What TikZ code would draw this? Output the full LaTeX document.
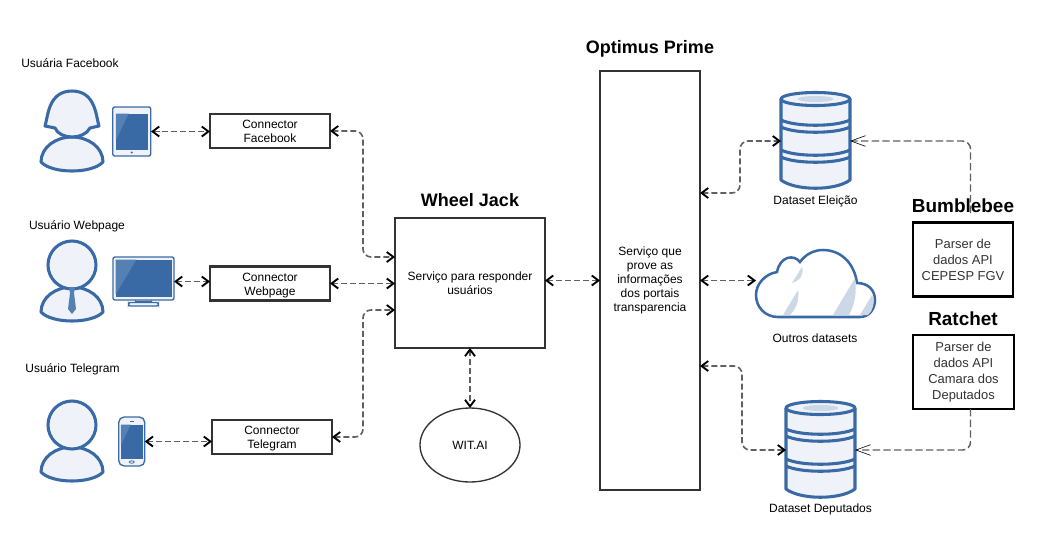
\documentclass[tikz,border=0pt]{standalone}
\usepackage{fontspec}
\setmainfont{Liberation Sans}
\usepackage{xcolor}
\usetikzlibrary{positioning,shapes,arrows.meta}

\definecolor{iconblue}{HTML}{3A6AA5}
\definecolor{iconlight}{HTML}{5480B3}
\definecolor{iconpale}{HTML}{EFF3F9}
\definecolor{cloudstripe}{HTML}{CDD8E6}
\definecolor{linkgray}{HTML}{606060}
\definecolor{boxgray}{HTML}{333333}

\newcommand{\lowline}{\rule{0pt}{9pt}}

\tikzset{
    icon/.style={draw=iconblue,fill=iconpale,line width=2.3pt,line join=round},
    thinicon/.style={draw=iconblue,fill=iconpale,line width=1pt,rounded corners=1.5pt},
    service/.style={draw=boxgray,fill=white,line width=1.6pt,inner sep=0pt,outer sep=0pt,align=center,
        font=\fontsize{9}{10.6}\selectfont},
    parser/.style={service,draw=black,minimum width=75pt,minimum height=55.5pt,
        font=\fontsize{9.7}{12}\selectfont,text=boxgray},
    connector/.style={service,minimum width=90pt,minimum height=25.5pt},
    slot/.style={inner sep=0pt,outer sep=0pt},
    caption/.style={font=\fontsize{9}{11}\selectfont,inner sep=0pt},
    heading/.style={font=\fontsize{13.5}{16}\selectfont\bfseries,inner sep=0pt},
    bigheading/.style={font=\fontsize{14.2}{16}\selectfont\bfseries,inner sep=0pt},
    link/.style={{Straight Barb[black,length=5pt,width=7.5pt,line width=1.4pt]}-{Straight Barb[black,length=5pt,width=7.5pt,line width=1.4pt]},
        draw=linkgray,line width=1.2pt,dash pattern=on 4.5pt off 2.2pt,rounded corners=6pt},
    feed/.style={-{Straight Barb[black,length=11pt,width=8pt,line width=.45pt]},
        draw=linkgray,line width=1.1pt,dash pattern=on 5.5pt off 2.5pt,rounded corners=6pt},
    userbody/.pic={
        \draw[icon] (-31,47) .. controls (-31,32) and (-16,22) .. (0,22)
            .. controls (16,22) and (31,32) .. (31,47)
            .. controls (20,59) and (-20,59) .. (-31,47) -- cycle;
    },
    usermale/.pic={
        \pic {userbody};
        \draw[icon] (0,0) circle [radius=24];
    },
    usertie/.pic={
        \fill[iconlight] (-3,22) -- (3,22) -- (2,28) -- (4,44) -- (0,49) -- (-4,44) -- (-2,28) -- cycle;
    },
    userfemale/.pic={
        \pic {userbody};
        \draw[icon] (-27,11) .. controls (-24,2) and (-24,-24) .. (0,-24)
            .. controls (24,-24) and (24,2) .. (27,11) -- (18,13)
            .. controls (12,25) and (-12,25) .. (-17,13) -- cycle;
    },
    tablet/.pic={
        \draw[thinicon] (-19,-24.5) rectangle (19,24.5);
        \fill[iconblue] (-16,-18) rectangle (16,18);
        \fill[iconlight] (-16,-18) -- (-3,-18) -- (-16,9) -- cycle;
        \fill[iconblue] (0,21) circle [radius=1.2];
    },
    monitor/.pic={
        \draw[thinicon] (-8,20) rectangle (8,22);
        \draw[thinicon] (-15,21) rectangle (15,24.5);
        \draw[thinicon] (-30.5,-24.5) rectangle (30.5,18.5);
        \fill[iconblue] (-28,-22) rectangle (28,15.5);
        \fill[iconlight] (-28,-22) -- (-7,-22) -- (-28,13) -- cycle;
    },
    phone/.pic={
        \draw[thinicon,rounded corners=4pt] (-13,-24.5) rectangle (13,24.5);
        \fill[iconblue] (-11,-17) rectangle (11,17);
        \fill[iconlight] (-11,-17) -- (-1,-17) -- (-11,4) -- cycle;
        \draw[iconblue,line width=.6pt] (-2,-20.5) -- (2,-20.5);
        \draw[iconblue,line width=.6pt] (0,20.5) ellipse [x radius=2.5,y radius=1.2];
    },
    database/.pic={
        \draw[icon,fill=iconpale] (-34.5,-42) -- (-34.5,39) .. controls (-20,50) and (20,50) .. (34.5,39) -- (34.5,-42);
        \draw[icon] (0,-42) ellipse [x radius=34.5,y radius=6.5];
        \fill[cloudstripe] (0,-42) ellipse [x radius=18,y radius=3];
        \foreach \sy in {-21,-14,9,16}
            \draw[iconblue,line width=2.3pt] (-34.5,\sy) .. controls (-20,\sy+7) and (20,\sy+7) .. (34.5,\sy);
    }
}

\begin{document}
\begin{tikzpicture}[x=.75pt,y=-.75pt]
    \useasboundingbox (0,0) rectangle (1063,536);

    % usuarios
    \node[caption] (lblfb) at (70,63.5) {Usuária Facebook};
    \node[caption] (lblweb) at (77,226.5) {Usuário Webpage};
    \node[caption] (lbltel) at (72.5,369.5) {Usuário Telegram};
    \pic at (72,115) {userfemale};
    \pic at (72,265) {usermale};
    \pic at (72,265) {usertie};
    \pic at (72,425) {usermale};

    % aparelhos
    \node[slot,minimum width=28.9pt,minimum height=36.75pt] (tabletfb) at (131.75,131.5) {};
    \node[slot,minimum width=45.75pt,minimum height=36.75pt] (monitorweb) at (143.5,281.5) {};
    \node[slot,minimum width=19.5pt,minimum height=36.75pt] (phonetel) at (131.75,441.5) {};
    \pic at (tabletfb) {tablet};
    \pic at (monitorweb) {monitor};
    \pic at (phonetel) {phone};

    % conectores
    \node[connector] (connfb) at (270,131) {Connector\\Facebook};
    \node[connector] (connweb) at (270,283.5) {\lowline Connector\\Webpage};
    \node[connector] (conntel) at (272,437) {\lowline Connector\\Telegram};

    % servicos
    \node[service,minimum width=112.5pt,minimum height=97.5pt] (wheel) at (470,283) {Serviço para responder\\usuários};
    \node[heading,above=8.5pt of wheel] (wheeltitle) {Wheel Jack};
    \node[service,ellipse,minimum width=75pt,minimum height=55.5pt,line width=1pt] (witai) at (470,445) {WIT.AI};
    \node[service,minimum width=75pt,minimum height=314.25pt] (optimus) at (650,280.5) {Serviço que\\prove as\\informações\\dos portais\\transparencia};
    \node[heading,above=10.5pt of optimus] (optimustitle) {Optimus Prime};

    % datasets
    \node[slot,minimum width=51.75pt,minimum height=72pt] (dbeleicao) at (815.5,141) {};
    \node[slot,minimum width=51.75pt,minimum height=72pt] (dbdeputados) at (820.5,450) {};
    \node[slot,minimum width=89.25pt,minimum height=50.25pt] (cloud) at (815.5,283.5) {};
    \pic at (dbeleicao) {database};
    \pic at (dbdeputados) {database};
    \draw[draw=iconblue,fill=white,line width=1.9pt] (778,317) -- (860,317)
        .. controls (869,317) and (875,309) .. (875,300)
        .. controls (875,290) and (868,283) .. (857,283)
        .. controls (854,262) and (840,250) .. (823,250)
        .. controls (813,250) and (805,255) .. (800,262)
        .. controls (794,254) and (780,256) .. (777,272)
        .. controls (765,274) and (756,284) .. (756,295)
        .. controls (756,307) and (765,317) .. (778,317) -- cycle;
    \fill[cloudstripe] (792,283) -- (802,267) .. controls (804,274) and (801,280) .. (792,283) -- cycle;
    \fill[cloudstripe] (783,315) -- (798,290) .. controls (800,301) and (795,310) .. (790,315) -- cycle;
    \fill[cloudstripe] (833,315) -- (855,278) .. controls (857,292) and (855,304) .. (849,315) -- cycle;
    \fill[cloudstripe] (860,315) -- (872,295) .. controls (875,303) and (873,311) .. (868,315) -- cycle;
    \node[caption,below=5pt of dbeleicao] (lbleleicao) {Dataset Eleição};
    \node[caption] (lbloutros) at (815,338) {Outros datasets};
    \node[caption,below=4.5pt of dbdeputados] (lbldeputados) {Dataset Deputados};

    % parsers
    \node[parser] (bumblebee) at (963,259.5) {Parser de\\dados API\\CEPESP FGV};
    \node[parser,minimum width=75.75pt] (ratchet) at (963.5,372) {Parser de\\dados API\\Camara dos\\Deputados};
    \coordinate (bumbleout) at (970.5,213);
    \coordinate (ratchetout) at (ratchet.south -| bumbleout);

    % ligacoes
    \draw[link] (tabletfb.east) -- (tabletfb.east -| connfb.west);
    \draw[link] (monitorweb.east) -- (monitorweb.east -| connweb.west);
    \draw[link] (phonetel.east) -- (phonetel.east -| conntel.west);
    \draw[link] (connfb.east) -- (363,131) -- (363,257) -- (395,257);
    \draw[link] (connweb.east) -- (wheel.west |- connweb.east);
    \draw[link] (conntel.east) -- (363,437) -- (363,310) -- (395,310);
    \draw[link] (wheel.east |- optimus.west) -- (optimus.west);
    \draw[link] (wheel.south) -- (witai.north);
    \draw[link] (optimus.east |- 0,193) -- (740,193) -- (740,141) -- (dbeleicao.west);
    \draw[link] (optimus.east) -- (optimus.east -| cloud.west);
    \draw[link] (optimus.east |- 0,366) -- (742,366) -- (742,450) -- (dbdeputados.west);
    \draw[feed] (bumbleout) -- (970.5,141) -- (dbeleicao.east);
    \draw[feed] (ratchetout) -- (970.5,450) -- (dbdeputados.east);

    \node[bigheading] (bumbletitle) at (963,206) {Bumblebee};
    \node[bigheading] (ratchettitle) at (963,319) {Ratchet};
\end{tikzpicture}
\end{document}
